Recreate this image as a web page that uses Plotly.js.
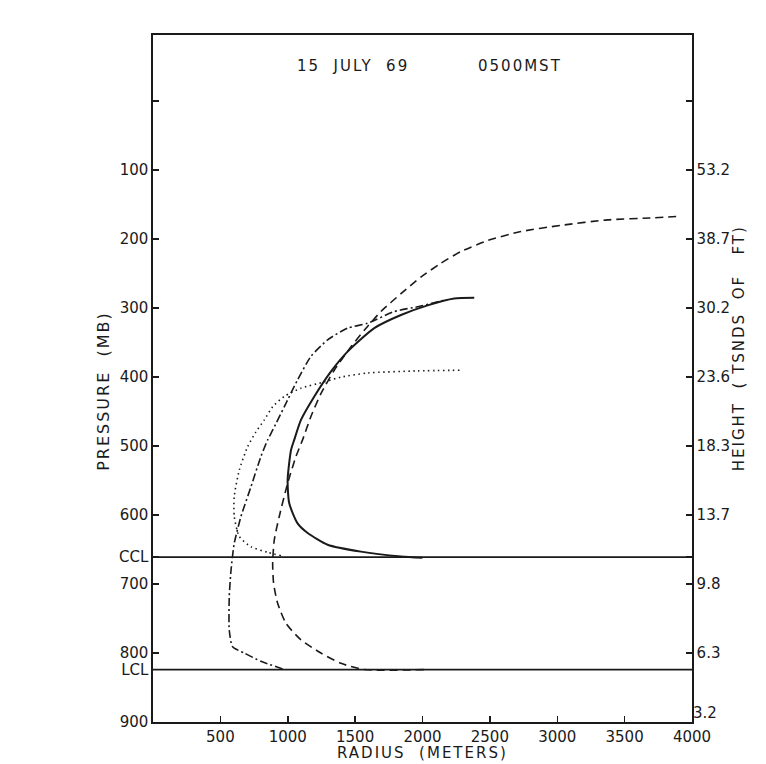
<!DOCTYPE html>
<html>
<head>
<meta charset="utf-8">
<script src="https://cdn.plot.ly/plotly-3.0.1.min.js"></script>
<style>
  html, body { margin: 0; padding: 0; background: #fff; }
  #chart { width: 766px; height: 764px; }
  .annotation-text { letter-spacing: 2px; }
</style>
</head>
<body>
<div id="chart"></div>
<script>
// ---- Data ----
const radiusTicks = [500, 1000, 1500, 2000, 2500, 3000, 3500, 4000];
const pressureTicks = [0, 100, 200, 300, 400, 500, 600, 700, 800, 900];
const pressureLabels = ['', '100', '200', '300', '400', '500', '600', '700', '800', '900'];
const heightLabels = ['', '53.2', '38.7', '30.2', '23.6', '18.3', '13.7', '9.8', '6.3', '3.2'];
const levelNames = ['CCL', 'LCL'];
const levelPressures = [661, 824];

// solid curve
const solidRadius = [2000, 1840, 1543, 1296, 1148, 1073, 1011, 999, 1024, 1048, 1098, 1197, 1320, 1444, 1642, 1840, 2038, 2235, 2384];
const solidPressure = [662, 660, 653, 643, 626, 612, 583, 549, 506, 491, 462, 428, 392, 363, 329, 310, 296, 286, 285];

// dashed curve
const dashedRadius = [2009, 1567, 1395, 1246, 1098, 987, 925, 895, 888, 900, 937, 999, 1061, 1110, 1172, 1246, 1345, 1469, 1568, 1691, 1840, 1988, 2136, 2285, 2483, 2730, 3026, 3373, 3719, 3904];
const dashedPressure = [824, 824, 815, 800, 781, 757, 728, 699, 670, 636, 602, 554, 515, 491, 457, 424, 390, 356, 332, 305, 279, 255, 235, 218, 202, 189, 180, 172, 169, 167];

// dash-dot curve
const dashDotRadius = [962, 801, 677, 591, 566, 566, 579, 603, 653, 727, 801, 851, 888, 974, 1073, 1172, 1296, 1444, 1592, 1790, 1988, 2150];
const dashDotPressure = [823, 812, 800, 791, 767, 718, 680, 641, 602, 559, 515, 491, 477, 443, 404, 370, 346, 329, 322, 305, 297, 289];

// dotted curve
const dottedRadius = [950, 851, 727, 640, 603, 603, 640, 702, 762, 826, 888, 974, 1098, 1271, 1395, 1592, 1963, 2297];
const dottedPressure = [659, 654, 646, 631, 602, 573, 535, 501, 480, 462, 443, 428, 416, 407, 400, 394, 391, 390];

// ---- Chart ----
const ink = '#1a1a1a';
const FONT = 'DejaVu Sans, Liberation Sans, sans-serif';

const traces = [
  { x: solidRadius, y: solidPressure, mode: 'lines', line: { color: ink, width: 2, shape: 'spline', smoothing: 0.6 }, name: 'solid' },
  { x: dashedRadius, y: dashedPressure, mode: 'lines', line: { color: ink, width: 1.6, dash: '8px,5px', shape: 'spline', smoothing: 0.6 }, name: 'dashed' },
  { x: dashDotRadius, y: dashDotPressure, mode: 'lines', line: { color: ink, width: 1.6, dash: '8px,3px,2px,3px', shape: 'spline', smoothing: 0.6 }, name: 'dashdot' },
  { x: dottedRadius, y: dottedPressure, mode: 'lines', line: { color: ink, width: 1.6, dash: '1.5px,3.5px', shape: 'spline', smoothing: 0.6 }, name: 'dotted' },
  // invisible traces to activate the right-hand axes
  { x: [0], y: [0], yaxis: 'y2', mode: 'markers', marker: { opacity: 0 }, hoverinfo: 'skip', showlegend: false },
  { x: [0], y: [0], yaxis: 'y3', mode: 'markers', marker: { opacity: 0 }, hoverinfo: 'skip', showlegend: false }
];

const shapes = levelPressures.map(p => ({
  type: 'line', xref: 'paper', x0: 0, x1: 1, yref: 'y', y0: p, y1: p,
  line: { color: ink, width: 1.6 }
}));

const yRange = [900, -96];
const leftTickVals = pressureTicks.concat(levelPressures);
const leftTickText = pressureLabels.concat(levelNames);
const tickFont = { size: 15, family: FONT, color: ink };
const titleFont = { size: 15, family: FONT, color: ink };

// right axis: all height labels except the bottom one, which sits raised above the 4000 label
const nRight = pressureTicks.length - 1;
const rightTickVals = pressureTicks.slice(0, nRight).concat(levelPressures);
const rightTickText = heightLabels.slice(0, nRight).concat(['', '']);

const layout = {
  width: 766, height: 764,
  paper_bgcolor: '#fff', plot_bgcolor: '#fff',
  showlegend: false,
  margin: { l: 153, r: 74, t: 35, b: 42 },
  font: { family: FONT, color: ink, size: 15 },
  xaxis: {
    range: [0, 4000], tickmode: 'array', tickvals: radiusTicks,
    ticks: 'inside', ticklen: 6, tickwidth: 1.5, tickcolor: ink,
    showline: true, linecolor: ink, linewidth: 1.6, mirror: true,
    showgrid: false, zeroline: false, tickfont: tickFont
  },
  yaxis: {
    range: yRange, autorange: false, tickmode: 'array',
    tickvals: leftTickVals, ticktext: leftTickText,
    ticks: 'inside', ticklen: 6, tickwidth: 1.5, tickcolor: ink,
    showline: true, linecolor: ink, linewidth: 1.6,
    showgrid: false, zeroline: false, tickfont: tickFont
  },
  yaxis2: {
    overlaying: 'y', side: 'right',
    range: yRange, autorange: false, tickmode: 'array',
    tickvals: rightTickVals, ticktext: rightTickText,
    ticks: 'inside', ticklen: 6, tickwidth: 1.5, tickcolor: ink,
    showline: true, linecolor: ink, linewidth: 1.6,
    showgrid: false, zeroline: false, tickfont: tickFont
  },
  yaxis3: {
    overlaying: 'y', side: 'right',
    range: yRange, autorange: false, tickmode: 'array',
    tickvals: pressureTicks.slice(nRight), ticktext: heightLabels.slice(nRight),
    ticks: 'inside', ticklen: 6, tickwidth: 1.5, tickcolor: ink,
    ticklabelshift: 9,
    showline: false, showgrid: false, zeroline: false, tickfont: tickFont
  },
  shapes: shapes,
  annotations: [
    { text: '15  JULY  69', xref: 'paper', yref: 'paper', x: 0.371, y: 0.971, xanchor: 'center', showarrow: false, font: titleFont },
    { text: '0500MST', xref: 'paper', yref: 'paper', x: 0.681, y: 0.971, xanchor: 'center', showarrow: false, font: titleFont },
    { text: 'RADIUS  (METERS)', xref: 'paper', yref: 'paper', x: 0.50, y: 0, yshift: -31, xanchor: 'center', yanchor: 'middle', showarrow: false, font: titleFont },
    { text: 'PRESSURE  (MB)', xref: 'paper', yref: 'paper', x: 0, xshift: -49, xanchor: 'center', y: 0.482, textangle: -90, showarrow: false, font: { size: 16, family: FONT, color: ink } },
    { text: 'HEIGHT  ( TSNDS  OF   FT)', xref: 'paper', yref: 'paper', x: 1, xshift: 47, xanchor: 'center', y: 0.544, textangle: -90, showarrow: false, font: titleFont }
  ]
};

Plotly.newPlot('chart', traces, layout, { staticPlot: true, displayModeBar: false });
</script>
</body>
</html>
